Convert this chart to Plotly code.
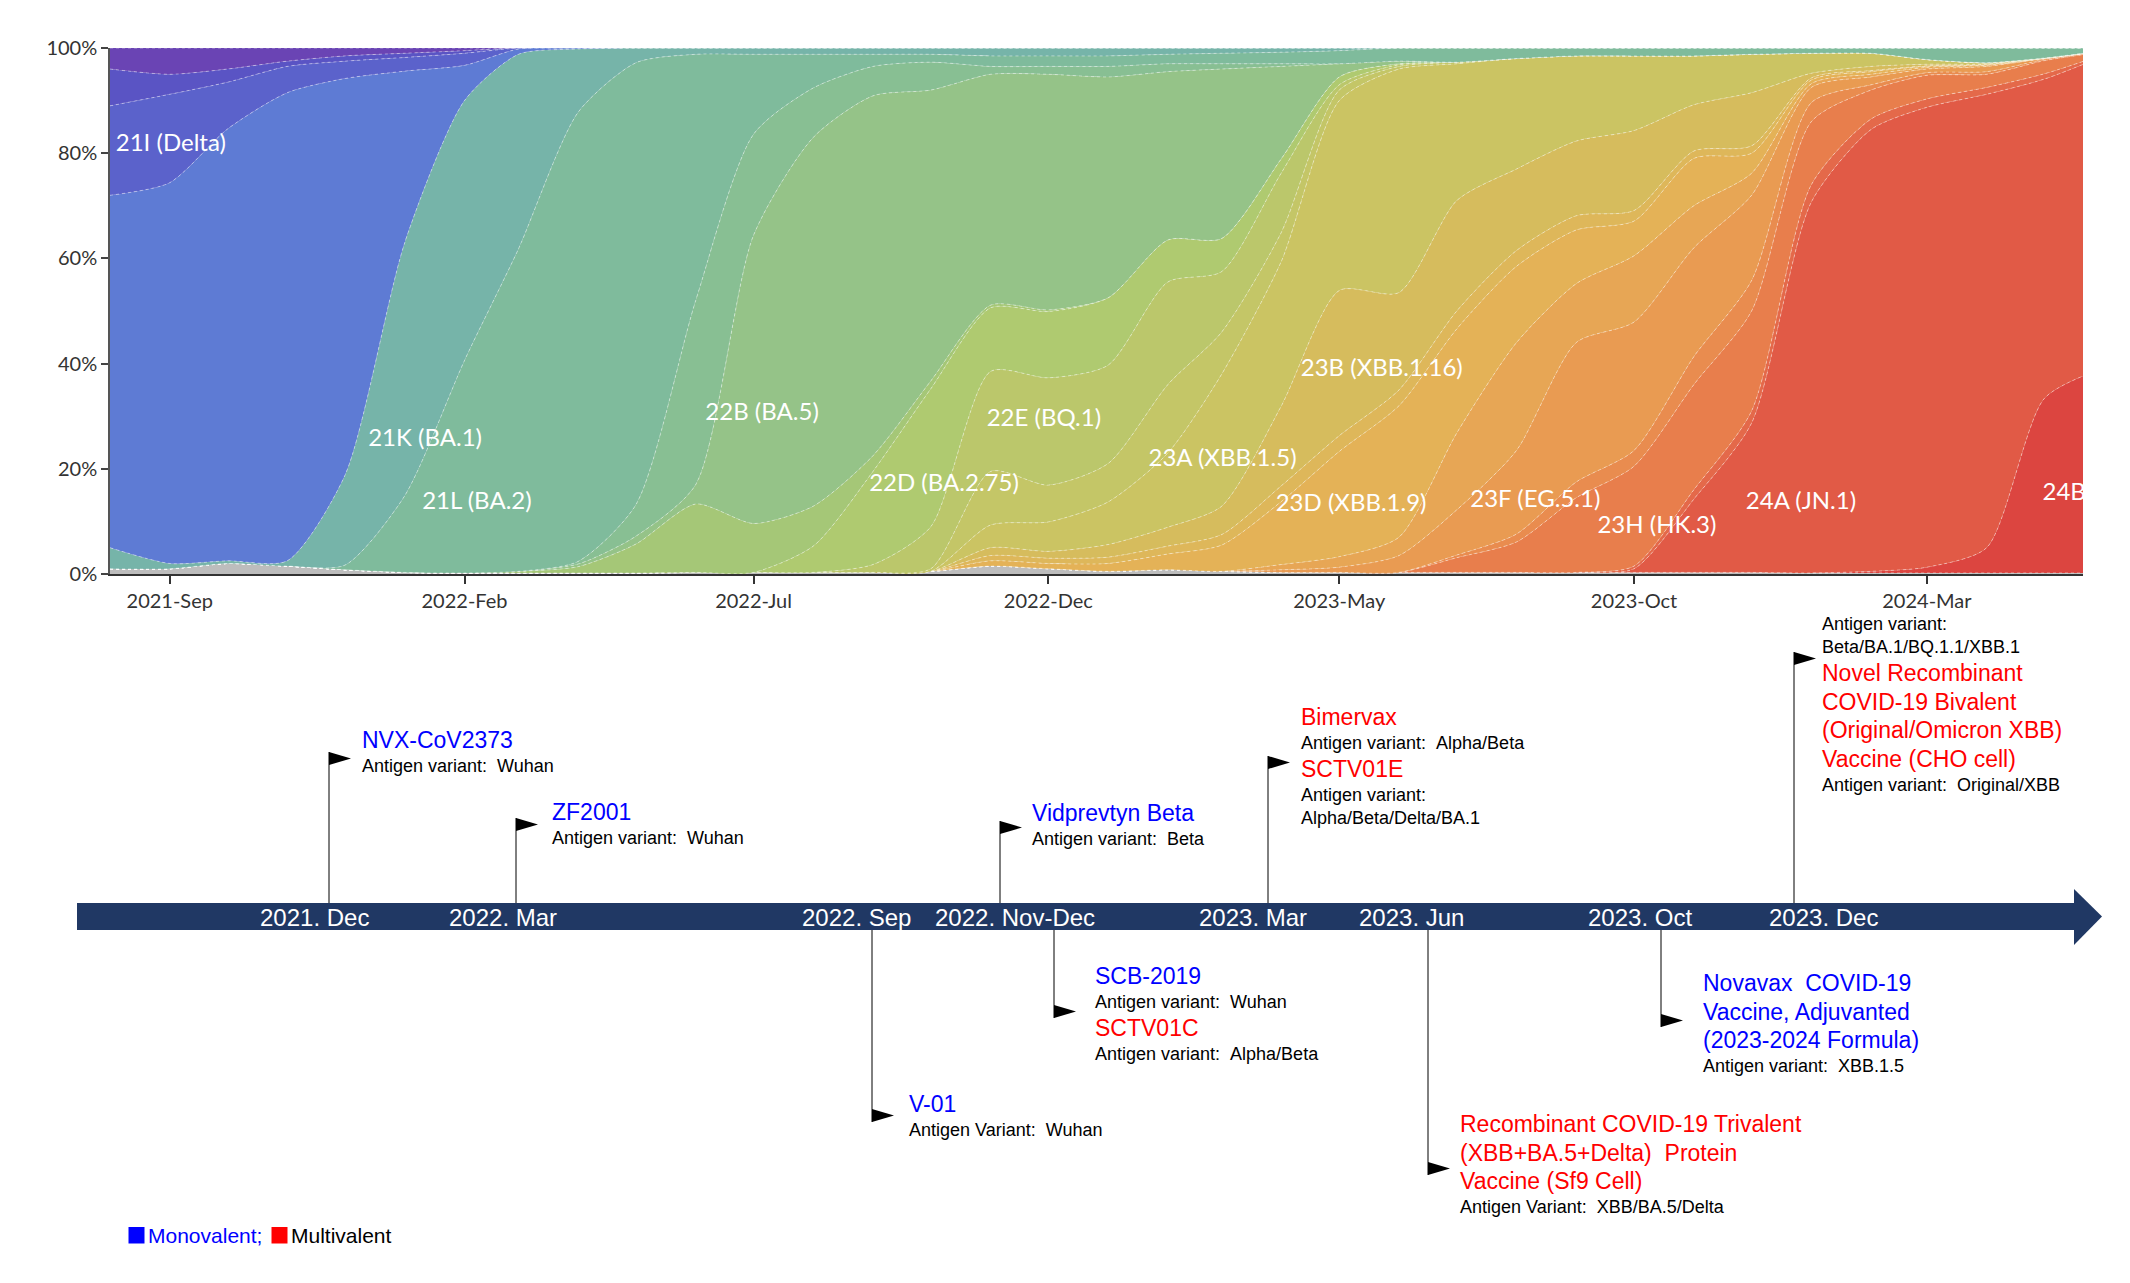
import pandas as pd
import plotly.graph_objects as go

W, H = 2130, 1283

# ---------------- DATA: clade frequencies (%), monthly, 2021-08 .. 2024-06 ----------------
months = pd.date_range("2021-08-01", periods=35, freq="MS")

other = [1, 1, 2, 1.5, 0.8, 0.3, 0.2, 0.2, 0.2, 0.2, 0.3, 0.3, 0.3, 0.3, 0.5, 1.5, 1, 0.5, 0.8, 0.5,
         0.3, 0.3, 0.3, 0.3, 0.3, 0.3, 0.3, 0.3, 0.3, 0.2, 0.2, 0.2, 0.2, 0.2, 0.2]
c24B = [0, 0, 0, 0, 0, 0, 0, 0, 0, 0, 0, 0, 0, 0, 0, 0, 0, 0, 0, 0,
        0, 0, 0, 0, 0, 0, 0, 0, 0, 0, 0.3, 1.1, 4.8, 33.2, 39]
c24A = [0, 0, 0, 0, 0, 0, 0, 0, 0, 0, 0, 0, 0, 0, 0, 0, 0, 0, 0, 0,
        0, 0, 0, 0, 0, 0, 0.7, 13.9, 28.4, 70.5, 84, 87.6, 86.2, 60.7, 59.3]
c23I = [0, 0, 0, 0, 0, 0, 0, 0, 0, 0, 0, 0, 0, 0, 0, 0, 0, 0, 0, 0,
        0, 0, 0, 0, 0, 0, 0.5, 1.8, 2.3, 3.3, 2, 1.6, 1.3, 1, 0.3]
c23H = [0, 0, 0, 0, 0, 0, 0, 0, 0, 0, 0, 0, 0, 0, 0, 0, 0, 0, 0, 0,
        0, 0, 0, 2.8, 5.8, 14.2, 19, 20, 19, 12, 5.5, 4.5, 2.5, 2.5, 0.5]
c23G = [0, 0, 0, 0, 0, 0, 0, 0, 0, 0, 0, 0, 0, 0, 0, 0, 0, 0, 0, 0,
        0, 0, 0, 0.5, 1.5, 3, 3, 5.3, 5.8, 3.6, 1, 0.5, 0.5, 0.2, 0.1]
c23F = [0, 0, 0, 0, 0, 0, 0, 0, 0, 0, 0, 0, 0, 0, 0, 0, 0, 0, 0, 0,
        0.5, 1, 3.2, 8.6, 15.9, 26.5, 24.4, 20.7, 16.2, 2.9, 1.5, 0.7, 1, 0.2, 0.1]
c23E = [0, 0, 0, 0, 0, 0, 0, 0, 0, 0, 0, 0, 0, 0, 0, 0, 0, 0, 0, 0,
        1, 2, 3.5, 14.6, 20.5, 11.2, 12.6, 8, 4.2, 0.7, 0.5, 0.3, 0.2, 0, 0]
c23D = [0, 0, 0, 0, 0, 0, 0, 0, 0, 0, 0, 0, 0, 0, 0, 1, 1, 1.5, 3, 5,
        12, 20, 25, 19.8, 14.5, 10.2, 6.6, 9, 3.8, 0.7, 0.5, 0.2, 0.1, 0, 0]
c23C = [0, 0, 0, 0, 0, 0, 0, 0, 0, 0, 0, 0, 0, 0, 0, 1, 1, 1.2, 1.5, 2,
        3, 3, 3, 3.4, 3, 2.7, 2, 1.4, 1.4, 0.4, 0.2, 0.1, 0.1, 0, 0]
c23B = [0, 0, 0, 0, 0, 0, 0, 0, 0, 0, 0, 0, 0, 0, 0, 1.5, 1.3, 2.4, 3.6, 5.4,
        15.2, 27.6, 18.5, 21, 15.5, 14.2, 15.2, 8.8, 10.1, 0.9, 0.8, 0.3, 0.1, 0, 0]
c23A = [0, 0, 0, 0, 0, 0, 0, 0, 0, 0, 0, 0, 0, 0, 0, 4.3, 5.6, 8.1, 14.1, 25.1,
        27.5, 36.1, 42.5, 26, 21, 16.2, 14.2, 9.3, 7.3, 3.8, 2.5, 0.9, 0.2, 0.1, 0]
c22F = [0, 0, 0, 0, 0, 0, 0, 0, 0, 0, 0, 0, 0, 0, 0.5, 10.2, 7, 7.3, 13, 8,
        5.5, 2, 0.5, 0.3, 0, 0, 0, 0, 0, 0, 0, 0, 0, 0, 0]
c22E = [0, 0, 0, 0, 0, 0, 0, 0, 0, 0, 0, 0, 0, 1.5, 8, 19, 20.4, 18.7, 19.5, 11.5,
        11.3, 1, 0.3, 0, 0, 0, 0, 0, 0, 0, 0, 0, 0, 0, 0]
c22D = [0, 0, 0, 0, 0, 0, 0, 0, 0, 0, 0, 0, 5, 17.7, 26.2, 12.1, 12.6, 12.8, 8, 6.3,
        2.7, 1.5, 0.2, 0, 0, 0, 0, 0, 0, 0, 0, 0, 0, 0, 0]
c22A = [0, 0, 0, 0, 0, 0, 0, 0.3, 1.2, 5.5, 13, 9.3, 7.6, 3, 1.5, 0.5, 0.3, 0, 0, 0,
        0, 0, 0, 0, 0, 0, 0, 0, 0, 0, 0, 0, 0, 0, 0]
c22B = [0, 0, 0, 0, 0, 0, 0, 0, 0.5, 1.5, 3.7, 54.8, 70.1, 68.4, 55.3, 43.9, 44.8, 42, 32, 32.2,
        17.5, 2.5, 0.5, 0, 0, 0, 0, 0, 0, 0, 0, 0, 0, 0, 0]
c22C = [0, 0, 0, 0, 0, 0, 0, 0, 0.5, 6, 35, 19.2, 9.4, 5.6, 5.3, 1.5, 1.5, 2, 1.5, 1,
        0.5, 0, 0, 0, 0, 0, 0, 0, 0, 0, 0, 0, 0, 0, 0]
c21L = [0, 0, 0, 0, 0.9, 14.6, 40.4, 61.3, 85.4, 84, 46.8, 15.2, 6.4, 2.3, 1.5, 2, 2, 2, 1.8, 2,
        2.2, 2.5, 2.5, 2.7, 2, 1.5, 1.5, 1.5, 1.2, 1, 1, 2.2, 2.8, 1.9, 0.5]
c21K = [4, 1, 0.5, 1, 17.1, 48.1, 49.4, 37, 12, 2.8, 1.2, 1.2, 1.2, 1.2, 1.2, 1.5, 1.5, 1.5, 1.2, 1,
        0.8, 0.5, 0, 0, 0, 0, 0, 0, 0, 0, 0, 0, 0, 0, 0]
c21J = [67, 72.4, 82.1, 89, 75.4, 32.6, 6.7, 1, 0.2, 0, 0, 0, 0, 0, 0, 0, 0, 0, 0, 0,
        0, 0, 0, 0, 0, 0, 0, 0, 0, 0, 0, 0, 0, 0, 0]
c21I = [17, 16.8, 8.9, 5, 3.3, 2.6, 2.3, 0.2, 0, 0, 0, 0, 0, 0, 0, 0, 0, 0, 0, 0,
        0, 0, 0, 0, 0, 0, 0, 0, 0, 0, 0, 0, 0, 0, 0]
c21A = [7, 3.8, 2.5, 1, 1, 0.8, 0.5, 0, 0, 0, 0, 0, 0, 0, 0, 0, 0, 0, 0, 0,
        0, 0, 0, 0, 0, 0, 0, 0, 0, 0, 0, 0, 0, 0, 0]
c_early = [4, 5, 4, 2.5, 1.5, 1, 0.5, 0, 0, 0, 0, 0, 0, 0, 0, 0, 0, 0, 0, 0,
           0, 0, 0, 0, 0, 0, 0, 0, 0, 0, 0, 0, 0, 0, 0]

clade_names = ["other", "24B", "24A", "23I", "23H", "23G", "23F", "23E", "23D", "23C", "23B", "23A",
               "22F", "22E", "22D", "22A", "22B", "22C", "21L", "21K", "21J", "21I", "21A", "early"]
clade_values = [other, c24B, c24A, c23I, c23H, c23G, c23F, c23E, c23D, c23C, c23B, c23A,
                c22F, c22E, c22D, c22A, c22B, c22C, c21L, c21K, c21J, c21I, c21A, c_early]

stream_labels = ["21I (Delta)", "21K (BA.1)", "21L (BA.2)", "22B (BA.5)", "22D (BA.2.75)", "22E (BQ.1)",
                 "23A (XBB.1.5)", "23B (XBB.1.16)", "23D (XBB.1.9)", "23F (EG.5.1)", "23H (HK.3)",
                 "24A (JN.1)", "24B (JN.1.11.1)"]

x_ticks = ["2021-09-01", "2022-02-01", "2022-07-01", "2022-12-01", "2023-05-01", "2023-10-01", "2024-03-01"]
x_tick_text = ["2021-Sep", "2022-Feb", "2022-Jul", "2022-Dec", "2023-May", "2023-Oct", "2024-Mar"]
y_ticks = [0, 20, 40, 60, 80, 100]
y_tick_text = ["0%", "20%", "40%", "60%", "80%", "100%"]

timeline_dates = ["2021. Dec", "2022. Mar", "2022. Sep", "2022. Nov-Dec",
                  "2023. Mar", "2023. Jun", "2023. Oct", "2023. Dec"]

# each event: list of (text, kind) ; kind: mono / multi / sub
events = [
    [("NVX-CoV2373", "mono"), ("Antigen variant:  Wuhan", "sub")],
    [("ZF2001", "mono"), ("Antigen variant:  Wuhan", "sub")],
    [("Vidprevtyn Beta", "mono"), ("Antigen variant:  Beta", "sub")],
    [("Bimervax", "multi"), ("Antigen variant:  Alpha/Beta", "sub"), ("SCTV01E", "multi"),
     ("Antigen variant:", "sub"), ("Alpha/Beta/Delta/BA.1", "sub")],
    [("Antigen variant:", "sub"), ("Beta/BA.1/BQ.1.1/XBB.1", "sub"), ("Novel Recombinant", "multi"),
     ("COVID-19 Bivalent", "multi"), ("(Original/Omicron XBB)", "multi"), ("Vaccine (CHO cell)", "multi"),
     ("Antigen variant:  Original/XBB", "sub")],
    [("V-01", "mono"), ("Antigen Variant:  Wuhan", "sub")],
    [("SCB-2019", "mono"), ("Antigen variant:  Wuhan", "sub"), ("SCTV01C", "multi"),
     ("Antigen variant:  Alpha/Beta", "sub")],
    [("Recombinant COVID-19 Trivalent", "multi"), ("(XBB+BA.5+Delta)  Protein", "multi"),
     ("Vaccine (Sf9 Cell)", "multi"), ("Antigen Variant:  XBB/BA.5/Delta", "sub")],
    [("Novavax  COVID-19", "mono"), ("Vaccine, Adjuvanted", "mono"), ("(2023-2024 Formula)", "mono"),
     ("Antigen variant:  XBB.1.5", "sub")],
]
legend_items = [("Monovalent;", "mono"), ("Multivalent", "multi")]

# ---------------- STYLE / LAYOUT ----------------
clade_colors = {
    "other": "#BDBDBD", "24B": "#DC4540", "24A": "#E15A46", "23I": "#E4694A", "23H": "#E87E4C",
    "23G": "#E98C4F", "23F": "#E99B52", "23E": "#E7A655", "23D": "#E4B257", "23C": "#DEB75A",
    "23B": "#D6BC5D", "23A": "#CBC463", "22F": "#C4C667", "22E": "#BBC76B", "22D": "#AFCA70",
    "22A": "#A5C777", "22B": "#95C388", "22C": "#88BF93", "21L": "#7FBB9C", "21K": "#76B4A9",
    "21J": "#5E7BD4", "21I": "#5B62CB", "21A": "#5A54C4", "early": "#6A44B4",
}
label_pos = [("2021-08-04", 81.6), ("2021-12-13", 25.5), ("2022-01-10", 13.5), ("2022-06-06", 30.4),
             ("2022-08-30", 16.9), ("2022-10-30", 29.3), ("2023-01-22", 21.7), ("2023-04-11", 38.8),
             ("2023-03-29", 13.1), ("2023-07-08", 13.9), ("2023-09-12", 8.9), ("2023-11-28", 13.5),
             ("2024-04-30", 15.2)]

date_label_x = [314, 503, 856, 1015, 1253, 1411, 1640, 1823]
# pole x, direction, flag end y, text x, first line y
event_layout = [
    (329, "up", 752, 360, 740), (516, "up", 818, 550, 812), (1000, "up", 821, 1030, 813),
    (1268, "up", 756, 1299, 717), (1794, "up", 652, 1820, 624),
    (872, "down", 1122, 907, 1104), (1054, "down", 1018, 1093, 976),
    (1428, "down", 1175, 1458, 1124), (1661, "down", 1027, 1701, 983),
]
kind_color = {"mono": "#0000FF", "multi": "#FF0000", "sub": "#000000"}
kind_size = {"mono": 23, "multi": 23, "sub": 18}
TL_FONT = "Liberation Sans, Arial, sans-serif"
BAR_TOP, BAR_BOT = 903, 930
BAR_COLOR = "#203864"


def px(x):
    return x / W


def py(y):
    return 1 - y / H


fig = go.Figure()

for name, vals in zip(clade_names, clade_values):
    fig.add_trace(go.Scatter(
        x=months, y=vals, name=name, mode="lines", stackgroup="freq", groupnorm="percent",
        line=dict(width=0.8, color="rgba(255,255,255,0.55)", shape="spline", smoothing=0.7, dash="dot"),
        fillcolor=clade_colors[name], hoverinfo="skip", showlegend=False))

fig.add_trace(go.Scatter(
    x=[p[0] for p in label_pos], y=[p[1] for p in label_pos], text=stream_labels,
    mode="text", textposition="middle right", cliponaxis=True,
    textfont=dict(family="Lato, sans-serif", size=24, color="white"),
    hoverinfo="skip", showlegend=False))

shapes = []
annotations = []

# timeline bar + arrowhead
shapes.append(dict(type="rect", xref="paper", yref="paper", x0=px(77), x1=px(2075),
                   y0=py(BAR_BOT), y1=py(BAR_TOP), fillcolor=BAR_COLOR, line=dict(width=0)))
shapes.append(dict(type="path", xref="paper", yref="paper",
                   path=f"M {px(2074)},{py(889)} L {px(2102)},{py(916.5)} L {px(2074)},{py(945)} Z",
                   fillcolor=BAR_COLOR, line=dict(width=0)))

for txt, xc in zip(timeline_dates, date_label_x):
    annotations.append(dict(x=px(xc), y=py(917), xref="paper", yref="paper", text=txt, showarrow=False,
                            xanchor="center", yanchor="middle",
                            font=dict(family=TL_FONT, size=24, color="white")))


def gap(a, b):
    if a != "sub" and b != "sub":
        return 28.5
    if a == "sub" and b == "sub":
        return 23
    return 26


for lines, (pole_x, direction, flag_y, tx, ty) in zip(events, event_layout):
    if direction == "up":
        shapes.append(dict(type="line", xref="paper", yref="paper", x0=px(pole_x), x1=px(pole_x),
                           y0=py(flag_y), y1=py(BAR_TOP), line=dict(color="black", width=1)))
        tri = (f"M {px(pole_x)},{py(flag_y)} L {px(pole_x + 22)},{py(flag_y + 6.5)} "
               f"L {px(pole_x)},{py(flag_y + 13)} Z")
    else:
        shapes.append(dict(type="line", xref="paper", yref="paper", x0=px(pole_x), x1=px(pole_x),
                           y0=py(BAR_BOT), y1=py(flag_y), line=dict(color="black", width=1)))
        tri = (f"M {px(pole_x)},{py(flag_y - 13)} L {px(pole_x + 22)},{py(flag_y - 6.5)} "
               f"L {px(pole_x)},{py(flag_y)} Z")
    shapes.append(dict(type="path", xref="paper", yref="paper", path=tri,
                       fillcolor="black", line=dict(width=0)))
    y = ty
    prev = None
    for text, kind in lines:
        if prev is not None:
            y += gap(prev, kind)
        annotations.append(dict(x=px(tx), y=py(y), xref="paper", yref="paper",
                                text=text.replace("  ", " \u00a0"), showarrow=False,
                                xanchor="left", yanchor="middle",
                                font=dict(family=TL_FONT, size=kind_size[kind], color=kind_color[kind])))
        prev = kind

# legend
legend_layout = [(128.5, 146), (271.5, 289)]
for (text, kind), (sx, tx) in zip(legend_items, legend_layout):
    shapes.append(dict(type="rect", xref="paper", yref="paper", x0=px(sx), x1=px(sx + 16),
                       y0=py(1243.5), y1=py(1227), fillcolor=kind_color[kind], line=dict(width=0)))
    annotations.append(dict(x=px(tx), y=py(1235.5), xref="paper", yref="paper", text=text,
                            showarrow=False, xanchor="left", yanchor="middle",
                            font=dict(family=TL_FONT, size=21,
                                      color="#0000FF" if kind == "mono" else "#000000")))

fig.update_layout(
    width=W, height=H, margin=dict(l=0, r=0, t=0, b=0, pad=0, autoexpand=False),
    paper_bgcolor="white", plot_bgcolor="white", showlegend=False,
    shapes=shapes, annotations=annotations,
    xaxis=dict(domain=[px(110), px(2083)], range=["2021-08-01", "2024-05-21"], type="date",
               tickvals=x_ticks, ticktext=x_tick_text, ticks="outside", ticklen=8, tickwidth=1.5,
               tickcolor="#333", showline=True, linecolor="#333", linewidth=2, showgrid=False,
               zeroline=False, automargin=False,
               tickfont=dict(family="Lato, sans-serif", size=20, color="#333")),
    yaxis=dict(domain=[py(574), py(48)], range=[0, 100], tickvals=y_ticks, ticktext=y_tick_text,
               ticks="outside", ticklen=7, tickwidth=1.5, tickcolor="#444", showline=True,
               linecolor="#555", linewidth=1.5, showgrid=False, zeroline=False, automargin=False,
               tickfont=dict(family="Lato, sans-serif", size=20, color="#333")),
)

fig.write_html("out.html", config={"displayModeBar": False},
               post_script="document.body.style.margin='0';document.body.style.overflow='hidden';")
